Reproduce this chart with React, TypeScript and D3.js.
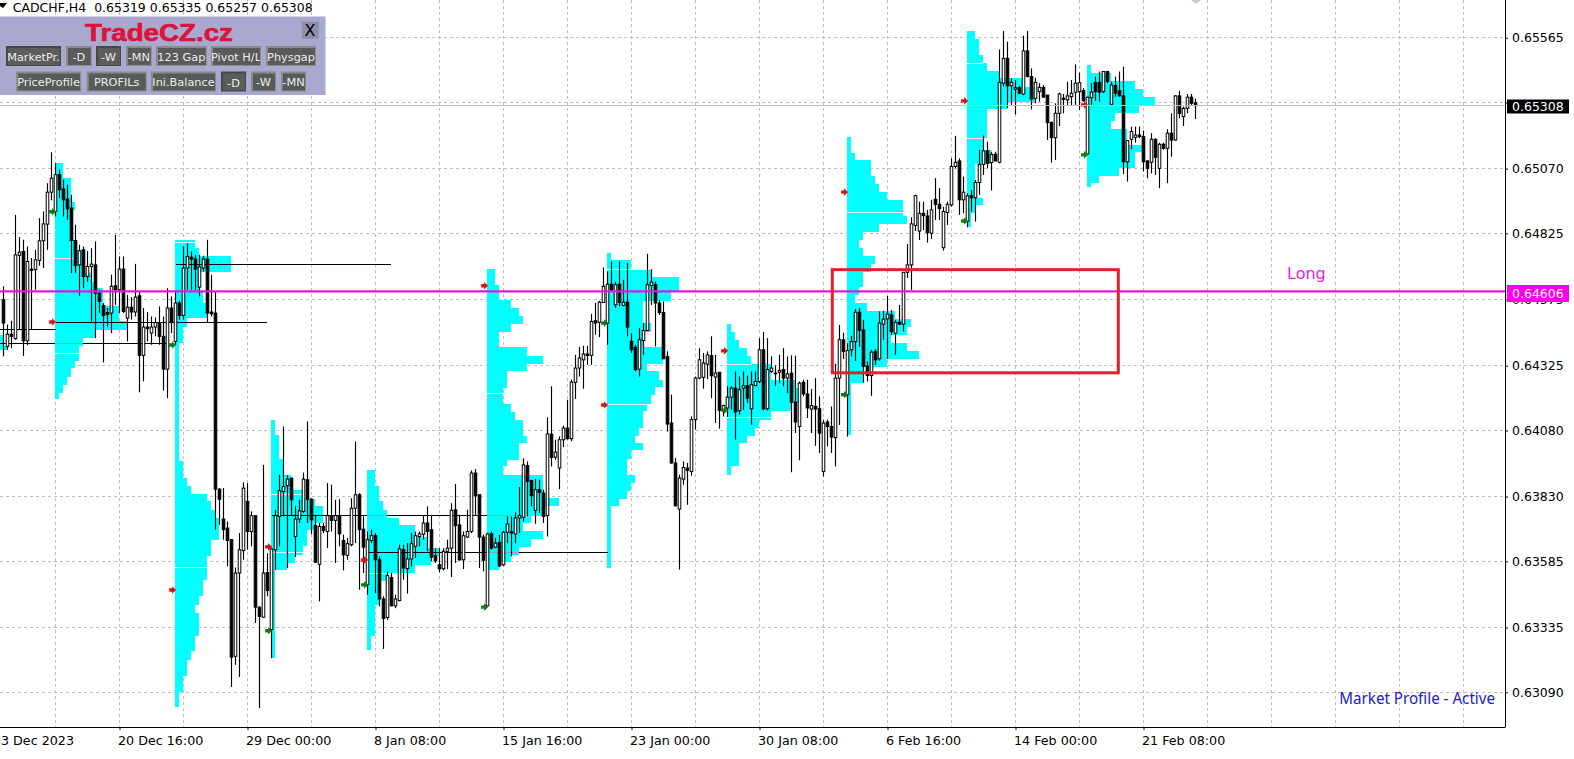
import { useEffect, useRef } from "react";
import * as d3 from "d3";

// prices are stored as points (price * 100000)
const opens = [
  64574,64398,64444,64427,64742,64757,64419,64690,64688,64723,
  64797,64860,64981,64908,65047,64993,64955,64921,64798,64706,
  64763,64662,64700,64706,64599,64552,64526,64524,64627,64612,
  64690,64505,64546,64528,64589,64364,64471,64448,64471,64488,
  64436,64312,64543,64417,64562,64515,64694,64735,64728,64622,
  64694,64728,64528,64524,63858,63745,63711,63667,63226,63541,
  63626,63812,63698,63758,63412,63374,63543,63327,63629,63755,
  63849,63871,63900,63679,63745,63774,63894,63820,63720,63574,
  63717,63698,63758,63740,63758,63664,63608,63648,63786,63837,
  63707,63497,63664,63682,63591,63443,63373,63524,63417,63437,
  63629,63558,63594,63642,63679,63688,63730,63705,63606,63572,
  63557,63623,63635,63780,63723,63591,63677,63698,63919,63837,
  63677,63417,63689,63639,63657,63572,63695,63697,63689,63749,
  63752,63947,63890,63778,63856,63843,63758,64066,63979,63938,
  64045,64089,64049,64262,64316,64347,64369,64364,64495,64489,
  64564,64486,64633,64555,64633,64553,64565,64417,64394,64312,
  64420,64458,64628,64631,64562,64526,64360,64108,63957,63783,
  63896,63938,63925,64121,64278,64281,64331,64363,64282,64300,
  64156,64165,64206,64240,64155,64240,64249,64162,64250,64265,
  64385,64162,64303,64297,64300,64310,64278,64297,64187,64095,
  64262,64218,64161,64171,64162,63925,64112,64095,64053,64278,
  64423,64215,64385,64416,64527,64460,64324,64288,64379,64351,
  64482,64502,64517,64448,64489,64482,64678,64706,64855,64834,
  64901,64891,64826,64954,64935,64771,64904,64933,65078,65099,
  64952,64870,64967,64960,65018,65086,65137,65093,65124,65094,
  65393,65487,65383,65370,65376,65352,65515,65418,65336,65361,
  65377,65348,65245,65187,65279,65336,65330,65342,65359,65361,
  65365,65125,65338,65396,65396,65361,65437,65313,65384,65364,
  65345,65096,65181,65188,65197,65191,65099,65094,65181,65071,
  65162,65147,65204,65178,65345,65267,65298,65340,65319,
];
const highs = [
  64625,64480,64495,64895,64811,64801,64776,64732,64763,64883,
  64908,65015,65132,65091,65066,65028,65009,64971,64858,64782,
  64776,64759,64769,64795,64612,64562,64543,64669,64820,64738,
  64738,64593,64584,64710,64606,64543,64528,64511,64507,64549,
  64511,64618,64587,64606,64570,64776,64788,64757,64744,64744,
  64741,64801,64669,64606,63862,63862,63736,63667,63562,63692,
  63884,63881,63774,63758,63415,63950,63616,63635,63780,63912,
  64095,63912,63900,63793,63818,63921,64114,63824,63761,63730,
  63730,63881,63875,63818,63820,63686,63673,63824,64038,63843,
  63755,63698,63705,63692,63604,63453,63547,63541,63459,63648,
  63648,63654,63692,63698,63698,63758,63793,63761,63635,63635,
  63635,63667,63805,63878,63761,63698,63780,63929,63934,63837,
  63686,63692,63698,63673,63686,63701,63755,63755,63770,63866,
  63975,63963,63894,63896,63894,63856,64130,64247,64045,64058,
  64098,64196,64272,64366,64395,64400,64400,64521,64562,64570,
  64696,64681,64719,64643,64719,64650,64713,64448,64404,64467,
  64486,64748,64690,64643,64574,64568,64379,64215,63976,63913,
  63963,63957,64133,64284,64391,64373,64379,64436,64366,64300,
  64177,64247,64247,64303,64284,64303,64287,64303,64303,64429,
  64452,64429,64360,64326,64366,64391,64360,64364,64363,64265,
  64272,64272,64237,64278,64209,64121,64121,64171,64332,64479,
  64450,64410,64438,64539,64542,64498,64341,64385,64387,64530,
  64533,64589,64536,64498,64555,64678,64785,64886,64971,64945,
  64945,64914,64952,65034,64996,64926,64945,65109,65194,65109,
  65040,64977,64989,65027,65141,65195,65172,65134,65134,65521,
  65590,65550,65412,65405,65383,65573,65590,65449,65414,65393,
  65386,65348,65248,65317,65357,65352,65399,65405,65464,65433,
  65374,65342,65393,65418,65437,65439,65439,65399,65418,65437,
  65456,65178,65229,65229,65229,65214,65103,65204,65185,65168,
  65168,65219,65279,65348,65365,65304,65352,65352,65335,
];
const lows = [
  64360,64385,64391,64423,64461,64362,64402,64463,64612,64703,
  64694,64763,64950,64889,64959,64889,64877,64675,64675,64589,
  64618,64643,64492,64429,64524,64337,64473,64448,64555,64524,
  64524,64417,64499,64511,64224,64266,64417,64404,64436,64404,
  64231,64202,64448,64404,64499,64499,64612,64612,64612,64587,
  64681,64489,64511,63705,63723,63667,63566,63110,63194,63148,
  63591,63629,63642,63352,63030,63371,63453,63219,63553,63642,
  63755,63560,63761,63601,63730,63768,63730,63688,63579,63434,
  63692,63635,63698,63579,63642,63551,63591,63642,63654,63478,
  63541,63459,63654,63465,63415,63254,63364,63415,63408,63434,
  63516,63463,63566,63598,63642,63667,63623,63585,63579,63543,
  63551,63556,63526,63579,63587,63556,63673,63692,63761,63560,
  63547,63417,63629,63635,63563,63568,63654,63604,63654,63692,
  63736,63755,63793,63727,63768,63730,63679,63944,63969,63858,
  64017,64045,64039,64199,64284,64238,64328,64328,64442,64433,
  64562,64404,64606,64543,64549,64549,64436,64373,64303,64284,
  64366,64455,64555,64398,64517,64350,64076,63954,63793,63554,
  63875,63799,63909,64083,64274,64238,64274,64202,64108,64087,
  64133,64131,64158,64045,64140,64158,64184,64102,64247,64259,
  64156,64156,64297,64247,64259,64247,64221,63922,64070,63967,
  64209,64127,64070,64022,63995,63906,64020,63995,63944,64101,
  64350,64057,64360,64343,64397,64261,64265,64211,64328,64344,
  64423,64351,64441,64366,64479,64454,64657,64611,64834,64800,
  64838,64790,64804,64876,64876,64760,64857,64926,65071,64895,
  64901,64848,64908,64870,64971,65046,65071,64987,65097,65090,
  65380,65298,65311,65275,65352,65348,65415,65294,65317,65323,
  65340,65178,65093,65103,65231,65279,65311,65307,65311,65292,
  65323,65122,65311,65326,65323,65355,65393,65311,65342,65342,
  65050,65021,65143,65168,65185,65059,65034,65052,65046,64996,
  65141,65015,65115,65176,65260,65231,65279,65311,65257,
];
const closes = [
  64486,64444,64436,64744,64754,64419,64719,64685,64725,64797,
  64861,64981,65034,65047,64990,64952,64918,64798,64703,64759,
  64662,64700,64709,64599,64568,64515,64518,64625,64612,64690,
  64530,64546,64528,64584,64364,64471,64465,64471,64488,64436,
  64312,64543,64490,64562,64515,64694,64738,64728,64690,64698,
  64728,64524,64521,63858,63820,63705,63664,63223,63541,63629,
  63862,63698,63758,63412,63377,63541,63475,63632,63758,63852,
  63868,63896,63818,63745,63776,63896,63820,63742,63582,63717,
  63702,63758,63740,63758,63689,63610,63652,63786,63837,63705,
  63639,63667,63682,63591,63443,63369,63531,63417,63443,63632,
  63560,63594,63652,63682,63689,63730,63698,63601,63587,63557,
  63623,63635,63778,63720,63591,63682,63698,63919,63833,63677,
  63589,63689,63635,63654,63568,63695,63726,63692,63749,63758,
  63950,63887,63833,63856,63846,63755,64067,63978,63998,64045,
  64089,64049,64263,64316,64354,64369,64364,64492,64486,64565,
  64625,64633,64612,64631,64564,64565,64471,64385,64310,64423,
  64458,64631,64641,64562,64526,64351,64104,63957,63795,63900,
  63940,63929,64121,64278,64347,64335,64366,64287,64297,64156,
  64175,64206,64240,64150,64234,64249,64202,64253,64265,64385,
  64162,64310,64316,64294,64307,64278,64294,64187,64112,64259,
  64218,64165,64174,64161,64070,64108,64095,64055,64278,64423,
  64379,64382,64416,64527,64458,64322,64288,64376,64347,64486,
  64501,64520,64454,64489,64482,64678,64706,64861,64968,64901,
  64892,64828,64914,64935,64919,64908,64935,65078,65094,64952,
  64981,64967,64960,65018,65086,65137,65090,65124,65099,65396,
  65487,65383,65396,65376,65355,65515,65418,65333,65396,65377,
  65340,65244,65187,65279,65352,65332,65345,65355,65393,65395,
  65327,65340,65359,65361,65359,65437,65399,65386,65355,65345,
  65096,65176,65210,65197,65191,65096,65071,65181,65113,65162,
  65147,65204,65178,65345,65279,65298,65340,65317,65308,
];

// market profile histograms: first bar, level boundaries, TPO count per level
const profileStarts = [-1, 13, 43, 67, 91, 121, 151, 181, 211, 241, 271];
const profileTops = [
  [64442,64398,64383],
  [65093,65033,64942,64912,64801,64763,64675,64643,64618,64552,64492,64461,64429,64398,64366,64341,64316,64284,64253,64221,64200],
  [64801,64769,64741,64681,64606,64562,64505,64473,64410,63963,63900,63871,63841,63812,63780,63749,63664,63604,63513,63453,63421,63390,63301,63245,63213,63153,63090,63034],
  [64120,64061,63972,63912,63853,63822,63793,63730,63705,63642,63610,63579,63553,63219],
  [63931,63871,63812,63780,63749,63724,63679,63635,63604,63572,63541,63509,63421,63301,63251],
  [64691,64631,64574,64543,64511,64483,64454,64394,64362,64332,64303,64240,64181,64150,64121,64058,64032,63969,63944,63913,63824,63793,63755,63730,63701,63671,63639,63610,63581,63554],
  [64751,64723,64691,64662,64602,64570,64486,64454,64394,64332,64303,64272,64243,64213,64181,64152,64089,64058,64032,64005,63973,63913,63881,63850,63821,63793,63560],
  [64483,64454,64423,64391,64362,64331,64272,64240,64184,64152,64121,64089,64058,64032,63944,63913],
  [65191,65128,65103,65042,65012,64982,64952,64891,64861,64831,64800,64769,64740,64710,64681,64624,64593,64561,64532,64501,64473,64441,64410,64382,64351,64319,64259,64061],
  [65590,65560,65500,65468,65439,65411,65380,65323,65294,65181,65141,65088,64958,64933,64901,64851],
  [65462,65430,65401,65370,65340,65311,65282,65251,65220,65160,65131,65071,65042,65015,65002],
];
const profileCounts = [
  [1,2],
  [2,4,5,4,5,7,9,10,12,16,18,10,7,6,6,5,4,3,2,1],
  [5,6,14,6,7,8,3,2,1,2,3,4,8,9,10,11,9,8,7,6,5,6,5,4,3,2,1],
  [1,2,3,5,8,11,13,11,9,8,6,4,1],
  [2,3,4,5,8,12,15,18,16,12,5,3,2,1],
  [2,3,6,8,9,6,3,10,14,10,5,4,6,7,9,10,8,5,4,14,18,14,11,9,14,11,8,6,3],
  [1,6,11,18,16,9,11,9,14,10,13,14,12,11,10,9,8,7,9,6,5,7,6,5,3,1],
  [1,2,3,5,6,11,17,18,16,11,8,7,5,3,1],
  [1,2,6,7,8,10,14,15,8,4,3,4,7,6,4,3,2,5,12,16,15,11,15,18,10,4,1],
  [2,3,4,5,8,14,17,10,5,4,6,2,4,2,1],
  [1,6,12,14,17,13,7,6,10,14,12,8,3,1],
];

// value area lines: [bar, count, price]
const paleLines = [
  [13,5,64732],[13,6,64370],[43,5,64791],[43,8,63560],[67,8,63837],[67,8,63619],
  [91,5,63541],[121,4,64221],[151,11,64690],[151,10,64177],[181,6,64331],[181,11,64129],
  [211,14,64904],[241,4,65468],[241,5,65182],
];
const greyLines = [
  [13,7,64410],[91,5,63760],[121,6,63760],[121,8,63620],[211,6,64684],
];
// POC extensions: [from bar, to bar, price]
const pocLines = [
  [-1,40.5,64410],[-1,13,64460],[13,65.8,64490],[43,96.8,64709],[67,126.8,63760],[91,151,63620],
];
const redArrows = [[13,64490],[43,63477],[67,63640],[91,63590],[121,64627],[151,64176],[181,64381],[211,64981],[241,65326],[271,65311]];
const greenArrows = [[13,64907],[43,64403],[67,63323],[91,63496],[121,63412],[151,64486],[181,64157],[211,64215],[241,64872],[271,65122]];

const priceTicks = [0.65565,0.6532,0.6507,0.64825,0.64575,0.64325,0.6408,0.6383,0.63585,0.63335,0.6309];
const hiddenPriceTick = 0.6532;
const timeTickBars = [-3,29,61,93,125,157,189,221,253,285];
const timeTickLabels = ["3 Dec 2023","20 Dec 16:00","29 Dec 00:00","8 Jan 08:00","15 Jan 16:00","23 Jan 00:00","30 Jan 08:00","6 Feb 16:00","14 Feb 00:00","21 Feb 08:00"];

const longLevel = 0.64606;
const lastPrice = 0.65308;
const boxFrom = [207.2, 0.64688];
const boxTo = [278.7, 0.64298];

const topRowButtons = [
  ["MarketPr.",6,61,true],["-D",66,91.7,false],["-W",96,121,true],["-MN",126,151.7,false],
  ["123 Gap",156,206.7,false],["Pivot H/L",211,261,false],["Physgap",266,316,false],
];
const bottomRowButtons = [
  ["PriceProfile",16,81,false],["PROFILs",86.7,146.7,false],["Ini.Balance",151,216,false],
  ["-D",221,246,true],["-W",251,276,false],["-MN",281,306,false],
];

const W = 1574;
const H = 759;
const AXIS_X = 1505;
const AXIS_Y = 727;
const FONT = "'DejaVu Sans', sans-serif";
const CYAN = "#00ffff";
const MAGENTA = "#ee10dd";

function App() {
  const ref = useRef<SVGSVGElement>(null);

  useEffect(() => {
    const svg = d3.select(ref.current);
    svg.selectAll("*").remove();

    const x = d3.scaleLinear().domain([0, 1]).range([3.5, 7.5]);
    const y = d3.scaleLinear().domain([0.65565, 0.6309]).range([37.7, 692.3]);
    const yp = (p: number) => y(p / 100000);
    const snap = (v: number) => Math.round(v - 0.5) + 0.5;

    // grid
    const gridBars = d3.range(13, 370, 16).filter((b) => x(b) < AXIS_X);
    const grid = svg.append("g").attr("stroke", "#c0c0c0").attr("stroke-dasharray", "3,3").attr("shape-rendering", "crispEdges");
    grid.selectAll("line.v").data(gridBars).join("line")
      .attr("x1", (d) => x(d)).attr("x2", (d) => x(d)).attr("y1", 0).attr("y2", AXIS_Y);
    grid.selectAll("line.h").data(priceTicks).join("line")
      .attr("class", "h")
      .attr("x1", 0).attr("x2", AXIS_X).attr("y1", (d) => snap(y(d))).attr("y2", (d) => snap(y(d)));

    // market profiles
    const profiles = svg.append("g").attr("fill", CYAN).attr("shape-rendering", "crispEdges");
    profileStarts.forEach((bar, k) => {
      const tops = profileTops[k];
      profiles.append("g").selectAll("rect").data(profileCounts[k]).join("rect")
        .attr("x", x(bar) - 0.5)
        .attr("width", (c) => x(bar + c) - x(bar))
        .attr("y", (_, j) => Math.round(yp(tops[j])))
        .attr("height", (_, j) => Math.round(yp(tops[j + 1])) - Math.round(yp(tops[j])));
    });
    const overlay = (rows: number[][], color: string) => {
      svg.append("g").attr("stroke", color).attr("shape-rendering", "crispEdges")
        .selectAll("line").data(rows).join("line")
        .attr("x1", (d) => x(d[0]) - 0.5).attr("x2", (d) => x(d[0] + d[1]) - 0.5)
        .attr("y1", (d) => snap(yp(d[2]))).attr("y2", (d) => snap(yp(d[2])));
    };

    // POC extensions
    svg.append("g").attr("stroke", "#000").attr("shape-rendering", "crispEdges")
      .selectAll("line").data(pocLines).join("line")
      .attr("x1", (d) => x(d[0])).attr("x2", (d) => x(d[1]))
      .attr("y1", (d) => snap(yp(d[2]))).attr("y2", (d) => snap(yp(d[2])));
    overlay(paleLines, "#d8ffff");
    overlay(greyLines, "#8fa5a5");

    // candles
    const bars = d3.range(opens.length);
    const candles = svg.append("g");
    candles.selectAll("line").data(bars).join("line")
      .attr("stroke", "#000").attr("stroke-width", 1.15)
      .attr("x1", (i) => x(i)).attr("x2", (i) => x(i))
      .attr("y1", (i) => yp(highs[i])).attr("y2", (i) => yp(lows[i]));
    candles.selectAll("rect").data(bars).join("rect")
      .attr("fill", (i) => (closes[i] >= opens[i] ? "#fff" : "#000"))
      .attr("stroke", "#000").attr("stroke-width", 1)
      .attr("x", (i) => x(i) - 1.3)
      .attr("width", 2.6)
      .attr("y", (i) => yp(Math.max(opens[i], closes[i])))
      .attr("height", (i) => Math.max(0.6, Math.abs(yp(opens[i]) - yp(closes[i]))));

    // profile arrows
    const arrowPath = "M-3.6,-1.7H-0.6V-3.8L3.4,0L-0.6,3.8V1.7H-3.6Z";
    const arrows = (rows: number[][], color: string) => {
      svg.append("g").attr("fill", color).selectAll("path").data(rows).join("path")
        .attr("d", arrowPath)
        .attr("transform", (d) => `translate(${x(d[0]) - 2.8},${yp(d[1])})`);
    };
    arrows(redArrows, "#e01010");
    arrows(greenArrows, "#127a12");

    // last price line and long line
    svg.append("line").attr("x1", 0).attr("x2", AXIS_X).attr("y1", snap(y(lastPrice))).attr("y2", snap(y(lastPrice)))
      .attr("stroke", "#c0c0c0").attr("shape-rendering", "crispEdges");
    svg.append("line").attr("x1", 0).attr("x2", AXIS_X).attr("y1", y(longLevel)).attr("y2", y(longLevel))
      .attr("stroke", MAGENTA).attr("stroke-width", 2.4);
    svg.append("text").attr("x", 1287).attr("y", 279).attr("fill", "#e820dc")
      .attr("font-family", FONT).attr("font-size", 16).text("Long");

    // red box
    svg.append("rect")
      .attr("x", x(boxFrom[0])).attr("y", y(boxFrom[1]))
      .attr("width", x(boxTo[0]) - x(boxFrom[0])).attr("height", y(boxTo[1]) - y(boxFrom[1]))
      .attr("fill", "none").attr("stroke", "#dc2430").attr("stroke-width", 3);

    // axes
    const yAxis = d3.axisRight(y).tickValues(priceTicks).tickSize(3)
      .tickFormat((d: any) => (d === hiddenPriceTick ? "" : d3.format(".5f")(d)));
    const gy = svg.append("g").attr("transform", `translate(${AXIS_X},0)`).call(yAxis);
    gy.select(".domain").attr("d", `M0.5,0V${AXIS_Y + 0.5}`).attr("stroke", "#000");
    gy.selectAll("text").attr("x", 7).attr("font-family", FONT).attr("font-size", 12.5).attr("fill", "#000");

    const xAxis = d3.axisBottom(x).tickValues(timeTickBars).tickSize(3)
      .tickFormat((_, i) => timeTickLabels[i]);
    const gx = svg.append("g").attr("transform", `translate(0,${AXIS_Y})`).call(xAxis);
    gx.select(".domain").attr("d", `M0,0.5H${AXIS_X}`).attr("stroke", "#000");
    gx.selectAll("text")
      .attr("text-anchor", "start")
      .attr("x", (_, i) => (i === 0 ? 9 : -2))
      .attr("y", 18).attr("dy", 0)
      .attr("font-family", FONT).attr("font-size", 12.7).attr("fill", "#000");

    // price labels on the axis
    const tag = (price: number, fill: string, top: number, h: number) => {
      svg.append("rect").attr("x", 1507).attr("y", top).attr("width", 62).attr("height", h).attr("fill", fill);
      svg.append("text").attr("x", 1512).attr("y", top + h / 2 + 4.5).attr("fill", "#fff")
        .attr("font-family", FONT).attr("font-size", 12.5).text(price.toFixed(5));
    };
    tag(lastPrice, "#000", 99.5, 14);
    tag(longLevel, "#ff00e6", 285, 17);

    svg.append("text").attr("x", 1339.3).attr("y", 704).attr("fill", "#2020cc")
      .attr("font-family", "'Noto Sans', sans-serif").attr("font-size", 15.5)
      .attr("textLength", 155.7).attr("lengthAdjust", "spacingAndGlyphs").text("Market Profile - Active");

    // header
    svg.append("path").attr("d", "M0,3H7L3,8L0,6Z").attr("fill", "#000");
    svg.append("text").attr("x", 12.7).attr("y", 12).attr("fill", "#000").attr("xml:space", "preserve")
      .attr("font-family", FONT).attr("font-size", 12.3)
      .attr("textLength", 300).attr("lengthAdjust", "spacingAndGlyphs")
      .text("CADCHF,H4  0.65319 0.65335 0.65257 0.65308");
    svg.append("path").attr("d", "M1191,0L1196,4L1201,0Z").attr("fill", "#c8c8c8");

    // control panel
    const panel = svg.append("g");
    panel.append("rect").attr("x", 0).attr("y", 16.5).attr("width", 325.5).attr("height", 78.5).attr("fill", "#a9a9cf");
    panel.append("text").attr("x", 159).attr("y", 41).attr("text-anchor", "middle").attr("fill", "#dc143c")
      .attr("font-family", "'Liberation Sans', sans-serif").attr("font-weight", "bold").attr("font-size", 24)
      .attr("stroke", "#dc143c").attr("stroke-width", 0.7)
      .attr("textLength", 148).attr("lengthAdjust", "spacingAndGlyphs").text("TradeCZ.cz");
    panel.append("rect").attr("x", 301.7).attr("y", 21.7).attr("width", 17).attr("height", 17).attr("fill", "#8f8fa8");
    panel.append("text").attr("x", 310).attr("y", 36).attr("text-anchor", "middle").attr("fill", "#000")
      .attr("font-family", FONT).attr("font-size", 16).text("X");
    const drawButtons = (rows: (string | number | boolean)[][], top: number, id: string) => {
      rows.forEach((b, k) => {
        const [label, x0, x1, pressed] = b as [string, number, number, boolean];
        const w = x1 - x0;
        panel.append("clipPath").attr("id", `${id}${k}`).append("rect").attr("x", x0 + 1).attr("y", top).attr("width", w - 2).attr("height", 20);
        panel.append("rect").attr("x", x0).attr("y", top).attr("width", w).attr("height", 20)
          .attr("fill", pressed ? "#474747" : "#8a8a8a");
        panel.append("rect").attr("x", x0 + 2).attr("y", top + 2).attr("width", w - 3).attr("height", 17)
          .attr("fill", pressed ? "#5c5c5c" : "#5a5a5a");
        panel.append("text").attr("x", (x0 + x1) / 2).attr("y", top + (pressed ? 15 : 14.5)).attr("text-anchor", "middle")
          .attr("clip-path", `url(#${id}${k})`).attr("fill", "#ececec")
          .attr("font-family", FONT).attr("font-size", 11.3).text(label);
      });
    };
    drawButtons(topRowButtons, 46, "btnA");
    drawButtons(bottomRowButtons, 71.5, "btnB");
  }, []);

  return (
    <svg ref={ref} width={W} height={H} style={{ position: "absolute", left: 0, top: 0, background: "#fff" }} />
  );
}

export default App;
